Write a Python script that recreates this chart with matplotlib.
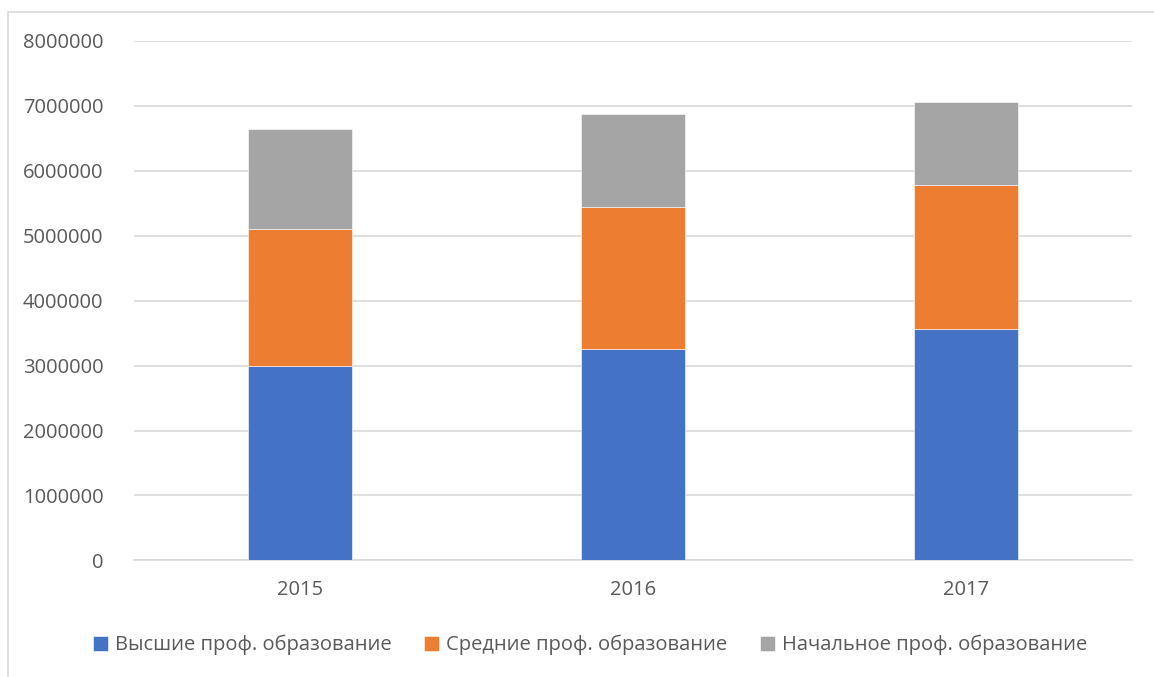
import numpy as np
import matplotlib
matplotlib.use("Agg")
import matplotlib.pyplot as plt
from matplotlib.patches import Rectangle

plt.rcParams['font.family'] = ['Open Sans', 'DejaVu Sans']

# data
years = ['2015', '2016', '2017']
higher = [3000000, 3253000, 3561000]
secondary = [2106000, 2181000, 2223000]
primary = [1536000, 1434000, 1274000]

series_names = ['Высшие проф. образование',
                'Средние проф. образование',
                'Начальное проф. образование']
colors = ['#4472C4', '#ED7D31', '#A5A5A5']
text_col = '#595959'
grid_col = '#D9D9D9'

W, H = 1154, 677
fig = plt.figure(figsize=(W / 100, H / 100), dpi=100)

# chart area border (left and top visible, the rest is cropped)
fig.patches.append(Rectangle((8 / W, -0.1), 1.2, (H - 12) / H + 0.1,
                             transform=fig.transFigure, fill=False,
                             edgecolor=grid_col, linewidth=1.2))

ax = fig.add_axes([134 / W, (H - 560.4) / H, 998 / W, (560.4 - 40.8) / H])

x = np.arange(len(years))
width = 0.312
bottoms = np.zeros(len(years))
for vals, name, c in zip([higher, secondary, primary], series_names, colors):
    ax.bar(x, vals, width, bottom=bottoms, color=c, label=name,
           edgecolor='white', linewidth=0.4, zorder=3)
    bottoms += np.array(vals)

ax.set_xlim(-0.5, 2.5)
ax.set_ylim(0, 8000000)
ax.set_yticks(np.arange(0, 8000001, 1000000))
ax.set_yticklabels([str(v) for v in range(0, 8000001, 1000000)])
ax.set_xticks(x)
ax.set_xticklabels(years)

ax.grid(axis='y', color=grid_col, linewidth=1.2, zorder=0)
for s in ['top', 'right', 'left']:
    ax.spines[s].set_visible(False)
ax.spines['bottom'].set_color(grid_col)
ax.spines['bottom'].set_linewidth(1.2)
ax.tick_params(axis='both', length=0, colors=text_col, labelsize=14.5)
ax.tick_params(axis='y', pad=22)
ax.tick_params(axis='x', pad=14)

fig.legend(loc='center', bbox_to_anchor=(590 / W, (H - 645) / H), ncol=3,
           frameon=False, fontsize=14.5, labelcolor=text_col,
           handlelength=0.75, handleheight=0.75, handletextpad=0.35,
           columnspacing=1.6)

fig.savefig('out.png', dpi=100, facecolor='white')
